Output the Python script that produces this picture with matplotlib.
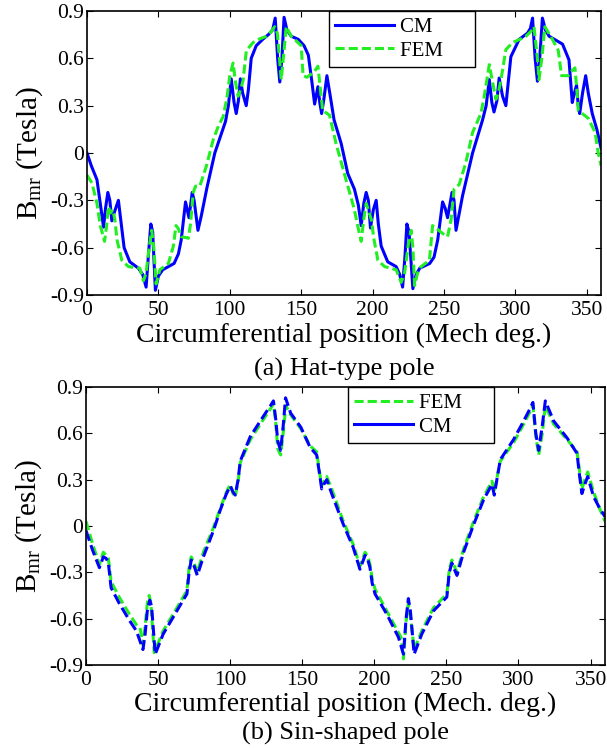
import matplotlib
matplotlib.use('Agg')
import matplotlib.pyplot as plt
from matplotlib.lines import Line2D

# (a) hat-type pole
hat_cm_x = [0, 3, 7, 9, 11.6, 13, 14.6, 16, 17.4, 19, 22, 24, 26, 30, 36, 39, 41.4, 43, 44.7, 46,
            47.9, 50, 53, 57, 61, 64, 66, 69, 71.4, 73.7, 75, 77.7, 80, 84, 89.5, 94, 97, 99, 101, 103,
            104.5, 106, 107.4, 109, 111.5, 113, 115, 118.5, 123, 127, 130, 131.8, 133.5, 135, 136.5, 138,
            140, 143, 148, 152, 155, 157.5, 159.4, 161.7, 163, 164.3, 166, 168, 170, 173, 178, 182.6,
            187.3, 190, 192, 193.8, 195.5, 197, 198.5, 200.5, 202.5, 204, 206, 210.6, 216.5, 219, 221,
            222.7, 224, 225.5, 228.2, 230.5, 233, 240, 243, 245.6, 249, 250.8, 252.5, 255.6, 257, 258.4,
            263, 270, 277, 279.5, 281.7, 283.5, 285, 287, 288.6, 291, 293.3, 296.8, 302.6, 308.5, 310.5,
            312, 313.8, 315.4, 317, 318.9, 321, 323.6, 333, 337.5, 339.8, 341.3, 342.8, 344, 345, 347,
            349.2, 351, 353.8, 357, 360]
hat_cm_y = [0, -0.08, -0.17, -0.3, -0.47, -0.35, -0.25, -0.3, -0.43, -0.38, -0.3, -0.45, -0.6, -0.69,
            -0.73, -0.77, -0.85, -0.65, -0.45, -0.5, -0.87, -0.78, -0.74, -0.72, -0.70, -0.64, -0.55,
            -0.31, -0.41, -0.25, -0.3, -0.49, -0.4, -0.22, 0.0, 0.12, 0.2, 0.3, 0.47, 0.32, 0.25, 0.33,
            0.47, 0.38, 0.3, 0.4, 0.6, 0.68, 0.72, 0.75, 0.78, 0.855, 0.6, 0.45, 0.6, 0.86, 0.78, 0.74,
            0.72, 0.68, 0.62, 0.45, 0.31, 0.42, 0.32, 0.25, 0.35, 0.49, 0.38, 0.21, 0.06, -0.13, -0.23,
            -0.33, -0.46, -0.32, -0.25, -0.3, -0.475, -0.36, -0.3, -0.45, -0.59, -0.69, -0.72, -0.77,
            -0.85, -0.65, -0.45, -0.5, -0.86, -0.77, -0.73, -0.70, -0.66, -0.55, -0.31, -0.35, -0.41,
            -0.25, -0.3, -0.49, -0.27, 0.0, 0.21, 0.3, 0.465, 0.32, 0.26, 0.33, 0.475, 0.36, 0.3, 0.61,
            0.72, 0.76, 0.79, 0.855, 0.6, 0.455, 0.6, 0.855, 0.78, 0.74, 0.69, 0.59, 0.32, 0.38, 0.43,
            0.3, 0.25, 0.38, 0.49, 0.38, 0.25, 0.15, 0.03]

hat_fem_x = [0, 3.5, 7, 9.3, 12.3, 13.5, 15, 16.5, 18, 19.5, 21, 24.4, 29, 37, 39.5, 41.4, 43.5, 45.3,
             46.8, 48.4, 51, 57, 60.5, 62.3, 64, 66, 71, 72.5, 74.4, 76, 79, 83.7, 88.4, 92, 95.3, 98,
             100, 102.3, 104, 105.8, 107.5, 109.3, 111.6, 116.3, 120, 125.6, 129, 131.4, 133.3, 136, 138,
             139.5, 143, 150, 151.3, 154, 157, 159.5, 161.7, 163.5, 165, 169.8, 174.4, 181.4, 187, 190,
             192, 193.8, 195.5, 197, 199, 201, 203.7, 208.4, 216.5, 220, 222.4, 225, 227, 228.2, 229.4,
             231.5, 234, 239.8, 242, 245, 249, 252.5, 255, 257, 260.6, 265.3, 270, 275.8, 278, 281.7, 284,
             286.3, 288, 289.8, 293.3, 298, 303, 307.3, 310.8, 313, 315.4, 316.5, 318.5, 320.6, 325.3,
             330, 332.3, 337, 339.5, 341.7, 343, 344, 351, 355.8, 358, 360]
hat_fem_y = [-0.14, -0.19, -0.32, -0.46, -0.56, -0.48, -0.34, -0.38, -0.36, -0.42, -0.55, -0.68, -0.72,
             -0.73, -0.81, -0.76, -0.6, -0.49, -0.6, -0.83, -0.74, -0.70, -0.59, -0.46, -0.48, -0.53,
             -0.54, -0.45, -0.25, -0.21, -0.21, -0.08, 0.085, 0.17, 0.23, 0.35, 0.49, 0.57, 0.45, 0.36,
             0.4, 0.46, 0.65, 0.70, 0.72, 0.74, 0.77, 0.80, 0.76, 0.465, 0.65, 0.80, 0.74, 0.68, 0.49,
             0.48, 0.50, 0.52, 0.55, 0.4, 0.27, 0.24, 0.06, -0.17, -0.35, -0.48, -0.56, -0.42, -0.32,
             -0.36, -0.42, -0.55, -0.68, -0.72, -0.74, -0.82, -0.76, -0.58, -0.49, -0.6, -0.84, -0.76,
             -0.72, -0.68, -0.46, -0.48, -0.51, -0.53, -0.42, -0.23, -0.20, -0.06, 0.13, 0.25, 0.35, 0.56,
             0.45, 0.34, 0.38, 0.46, 0.655, 0.70, 0.72, 0.74, 0.77, 0.80, 0.6, 0.465, 0.6, 0.80, 0.73,
             0.65, 0.49, 0.49, 0.52, 0.54, 0.4, 0.27, 0.22, 0.13, 0.0, -0.08]

# (b) sin-shaped pole
sin_cm_x = [0, 4.7, 9.3, 12, 14, 15.5, 17.4, 23, 30, 35, 39.5, 41, 42.5, 44.2, 45.5, 48, 53.5, 60.5,
            67.4, 70, 71.5, 73, 75, 77.2, 81.4, 88.4, 93, 97, 100, 102, 103.5, 105.5, 107, 114, 123, 128,
            130, 131.5, 133, 135, 136.8, 138.4, 142, 149, 155.4, 160, 161.8, 163.5, 165, 167, 170.4,
            178.5, 185.4, 190, 193.6, 195.5, 197, 198.5, 200.5, 208.6, 216.7, 220.2, 222, 223.6, 225,
            227.6, 232.9, 241, 250.3, 252, 253.8, 255.5, 257.3, 261.9, 268.9, 275.8, 281.6, 283.2, 285,
            287.4, 296.6, 303.6, 308, 310, 312, 314, 316.5, 318.6, 324.4, 333.7, 340.6, 342.3, 344, 346,
            348, 352.1, 356, 360]
sin_cm_y = [-0.03, -0.16, -0.27, -0.2, -0.21, -0.24, -0.4, -0.5, -0.61, -0.68, -0.80, -0.7, -0.55, -0.48,
            -0.52, -0.83, -0.70, -0.59, -0.48, -0.44, -0.3, -0.22, -0.26, -0.32, -0.2, -0.03, 0.10, 0.2,
            0.26, 0.22, 0.20, 0.3, 0.42, 0.58, 0.71, 0.78, 0.81, 0.7, 0.55, 0.49, 0.65, 0.83, 0.73, 0.64,
            0.51, 0.46, 0.35, 0.24, 0.27, 0.30, 0.21, 0.01, -0.14, -0.28, -0.19, -0.22, -0.27, -0.37,
            -0.44, -0.57, -0.72, -0.83, -0.6, -0.47, -0.55, -0.83, -0.70, -0.55, -0.46, -0.3, -0.24,
            -0.28, -0.32, -0.17, 0.01, 0.17, 0.27, 0.20, 0.3, 0.43, 0.56, 0.68, 0.76, 0.80, 0.6, 0.49,
            0.65, 0.81, 0.68, 0.57, 0.47, 0.33, 0.21, 0.27, 0.32, 0.19, 0.12, 0.06]

sin_fem_x = [0, 4.7, 9.3, 12, 14, 15.5, 17.4, 23, 30, 35, 37.5, 39.5, 41, 42.5, 43.8, 45, 47.3, 53.5,
             60.5, 67.4, 70, 71.5, 73, 75, 77.2, 81.4, 88.4, 93, 97, 100, 102, 103.5, 105.5, 107, 114, 123,
             128, 130, 131.5, 133, 135, 137, 138.6, 142, 149, 155.4, 160, 161.8, 163.5, 165, 167, 170.4,
             178.5, 185.4, 190, 193.6, 195.5, 197, 198.5, 200.5, 208.6, 216.7, 218.5, 220.2, 222, 223.6,
             225, 227.6, 232.9, 241, 250.3, 252, 253.8, 255.5, 257.3, 261.9, 268.9, 275.8, 281.6, 283.2,
             285, 287.4, 296.6, 303.6, 308, 310, 312, 314, 316.5, 318.6, 324.4, 333.7, 340.6, 342.3, 344,
             346, 348, 352.1, 356, 360]
sin_fem_y = [0.03, -0.12, -0.25, -0.17, -0.19, -0.21, -0.36, -0.46, -0.57, -0.64, -0.66, -0.77, -0.65,
             -0.5, -0.45, -0.5, -0.82, -0.68, -0.57, -0.46, -0.42, -0.27, -0.2, -0.24, -0.3, -0.17, -0.01,
             0.11, 0.21, 0.27, 0.21, 0.19, 0.29, 0.41, 0.56, 0.69, 0.76, 0.79, 0.68, 0.5, 0.46, 0.62, 0.78,
             0.72, 0.63, 0.52, 0.48, 0.36, 0.26, 0.29, 0.32, 0.24, 0.03, -0.12, -0.26, -0.17, -0.2, -0.25,
             -0.34, -0.41, -0.55, -0.69, -0.72, -0.86, -0.62, -0.5, -0.58, -0.8, -0.68, -0.53, -0.44,
             -0.28, -0.22, -0.26, -0.3, -0.15, 0.03, 0.19, 0.29, 0.22, 0.31, 0.42, 0.54, 0.66, 0.74, 0.78,
             0.58, 0.46, 0.6, 0.78, 0.66, 0.56, 0.48, 0.36, 0.24, 0.3, 0.35, 0.22, 0.12, 0.03]

x_ticks = [0, 50, 100, 150, 200, 250, 300, 350]
y_ticks = [-0.9, -0.6, -0.3, 0, 0.3, 0.6, 0.9]
y_ticklabels = ['-0.9', '-0.6', '-0.3', '0', '0.3', '0.6', '0.9']

BLUE = '#0000ff'
GREEN = '#22ee22'

plt.rcParams['font.family'] = ['Liberation Serif', 'DejaVu Serif']
plt.rcParams['mathtext.fontset'] = 'custom'
plt.rcParams['mathtext.rm'] = 'Liberation Serif'
plt.rcParams['mathtext.it'] = 'Liberation Serif'
plt.rcParams['axes.unicode_minus'] = False


def style_axes(ax, xlabel):
    ax.set_xlim(0, 360)
    ax.set_ylim(-0.9, 0.9)
    ax.set_xticks(x_ticks)
    ax.set_yticks(y_ticks)
    ax.set_yticklabels(y_ticklabels)
    ax.tick_params(direction='in', top=True, right=True, labelsize=15.5, length=4, width=0.8, pad=2)
    ax.tick_params(axis='x', pad=4)
    for s in ax.spines.values():
        s.set_linewidth(1.2)
    ax.set_xlabel(xlabel, fontsize=20, labelpad=2)
    ax.set_ylabel(r'B$_{\mathrm{mr}}$ (Tesla)', fontsize=21, labelpad=4)


def add_legend(ax, handles, labels, x0):
    # matlab-style box: wide, square corners, extra room right of the text
    leg = ax.legend(handles, [lab + '     ' for lab in labels], loc='upper left',
                    bbox_to_anchor=(x0, 1.0), fontsize=15, fancybox=False, edgecolor='black',
                    framealpha=1, handlelength=2.8, borderpad=0.3, labelspacing=0.2,
                    handletextpad=0.3, borderaxespad=0)
    leg.get_frame().set_linewidth(1.0)
    return leg


fig = plt.figure(figsize=(6.07, 7.48), dpi=100)

# top panel
ax1 = fig.add_axes([0.1433, 0.6056, 0.847, 0.3797])
l_cm, = ax1.plot(hat_cm_x, hat_cm_y, color=BLUE, lw=2.2)
l_fem, = ax1.plot(hat_fem_x, hat_fem_y, color=GREEN, lw=2.2, dashes=(3, 1.3))
style_axes(ax1, 'Circumferential position (Mech deg.)')
add_legend(ax1, [l_cm, l_fem], ['CM', 'FEM'], 0.471)
fig.text(0.567, 0.506, '(a) Hat-type pole', ha='center', va='center', fontsize=19)

# bottom panel
ax2 = fig.add_axes([0.1417, 0.111, 0.855, 0.3716])
ax2.plot(sin_fem_x, sin_fem_y, color=GREEN, lw=2.2, dashes=(3, 1.3))
ax2.plot(sin_cm_x, sin_cm_y, color=BLUE, lw=2.2, dashes=(3.5, 1.5))
style_axes(ax2, 'Circumferential position (Mech. deg.)')
handles = [Line2D([], [], color=GREEN, lw=2.2, dashes=(3, 1.3)),
           Line2D([], [], color=BLUE, lw=2.2)]
add_legend(ax2, handles, ['FEM', 'CM'], 0.505)
fig.text(0.569, 0.02, '(b) Sin-shaped pole', ha='center', va='center', fontsize=19)

plt.savefig('out.png', dpi=100)
plt.close()
